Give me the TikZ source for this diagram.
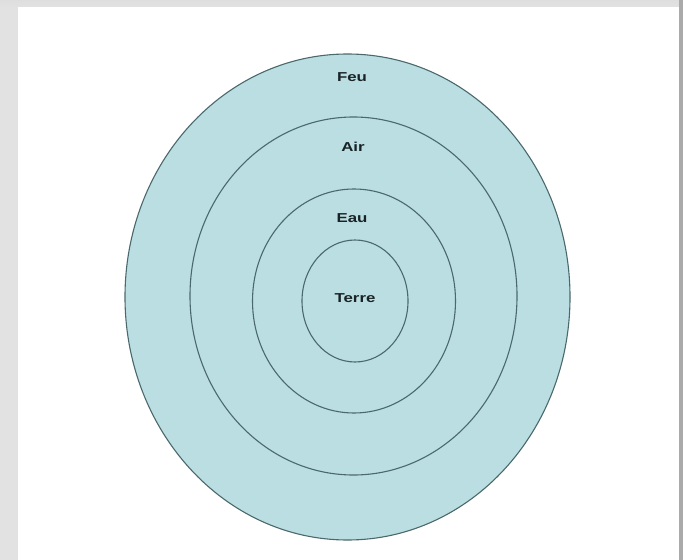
\documentclass[tikz,border=0pt]{standalone}
\usepackage{fontspec}
\setmainfont{Liberation Sans}
\usetikzlibrary{shapes.geometric}
\definecolor{ringfill}{RGB}{186,222,226}
\definecolor{ringline}{RGB}{75,105,108}
\definecolor{labeltext}{RGB}{25,35,38}
\definecolor{frameleft}{RGB}{226,226,226}
\definecolor{frametop}{RGB}{222,222,222}
\definecolor{frameright}{RGB}{170,170,170}
\begin{document}
\begin{tikzpicture}[x=1bp,y=-1bp,
  ring/.style={ellipse, draw=ringline, line width=1.1bp, fill=ringfill, inner sep=0pt, outer sep=0pt},
  lbl/.style={font=\bfseries\fontsize{13}{15}\selectfont, text=labeltext, inner sep=0pt}]
\useasboundingbox (0,0) rectangle (683,560);
% frame
\fill[frameleft] (0,0) rectangle (683,560);
\shade[top color=frametop, bottom color=frameleft] (0,0) rectangle (683,7);
\fill[frameright] (679,0) rectangle (683,560);
\fill[white] (18,7) rectangle (679,560);
% rings
\node[ring, minimum width=445bp, minimum height=486bp] (feu) at (347.5,297) {};
\node[ring, minimum width=327bp, minimum height=358bp] (air) at (353.5,296) {};
\node[ring, minimum width=203bp, minimum height=224bp] (eau) at (354,301) {};
\node[ring, minimum width=106bp, minimum height=122bp] (terre) at (355,301) {};
% labels
\node[lbl] (lfeu) at (352,77) {\scalebox{1.3}[1]{Feu}};
\node[lbl] (lair) at (353,147) {\scalebox{1.3}[1]{Air}};
\node[lbl] (leau) at (352,218) {\scalebox{1.3}[1]{Eau}};
\node[lbl] (lterre) at (355,298) {\scalebox{1.3}[1]{Terre}};
\end{tikzpicture}
\end{document}
